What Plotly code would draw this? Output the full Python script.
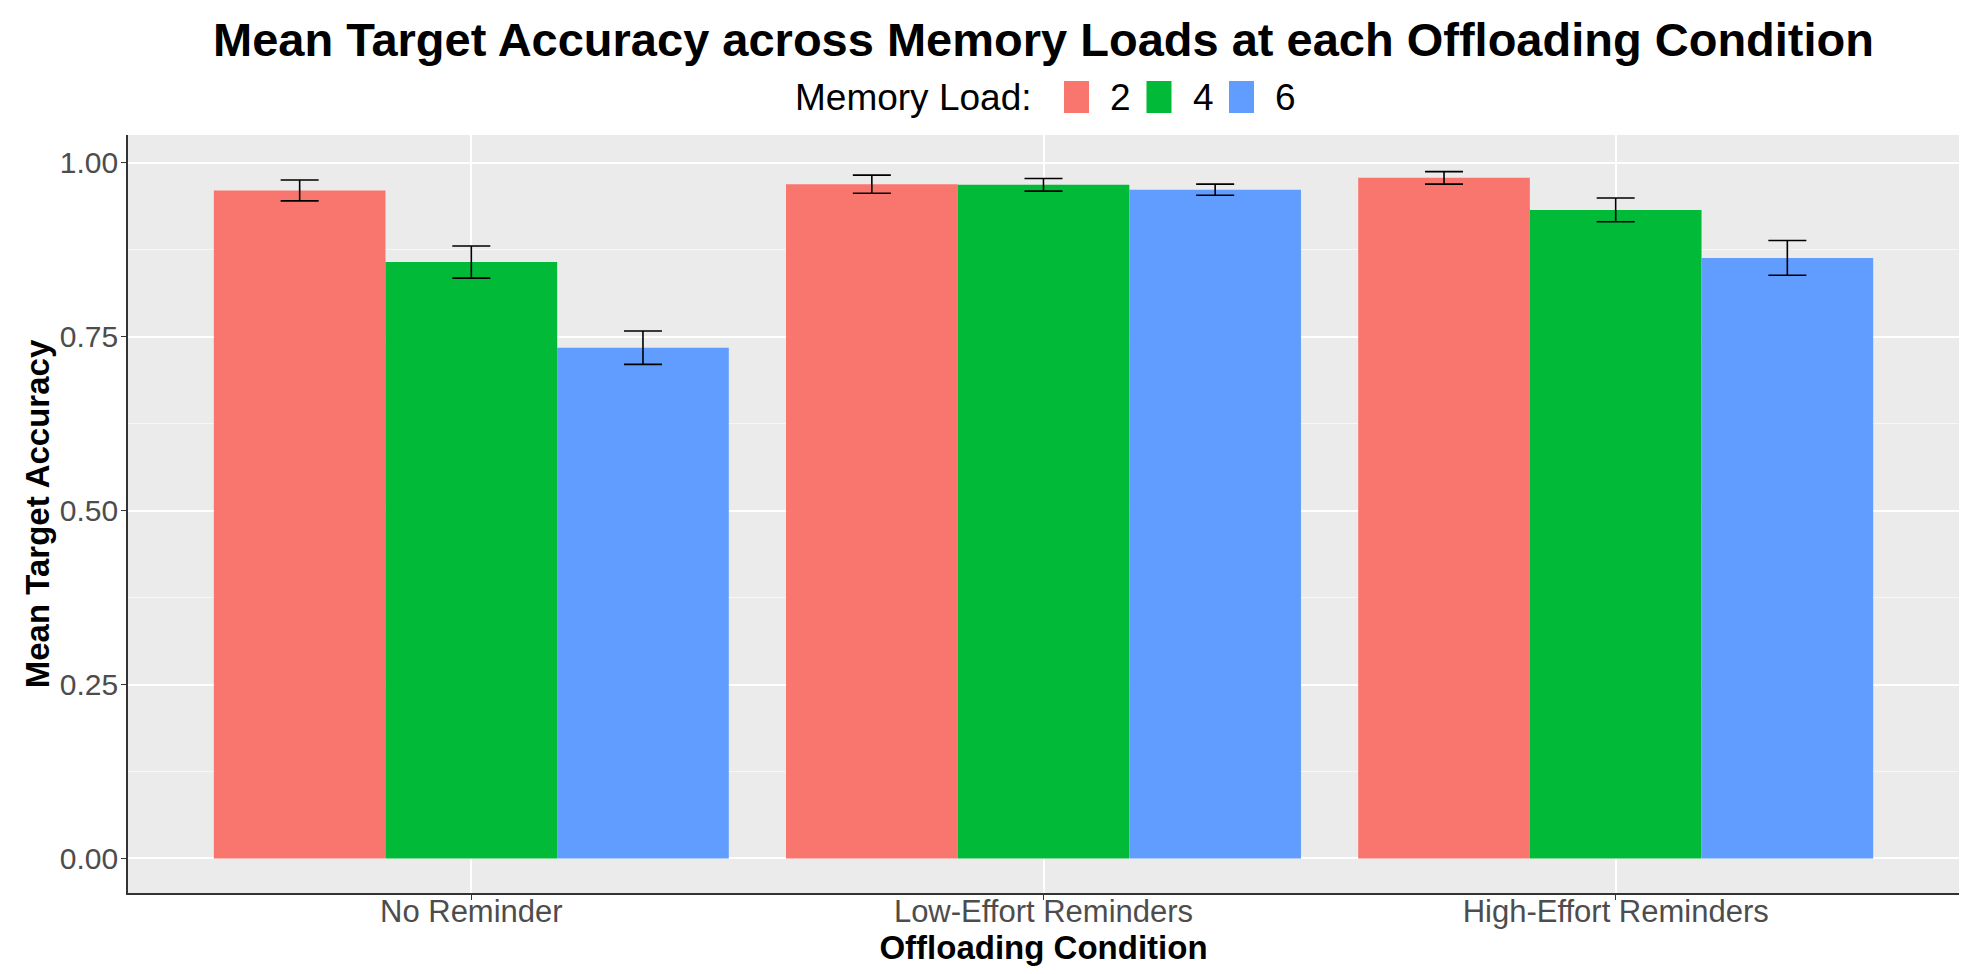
import plotly.graph_objects as go

conditions = ["No Reminder", "Low-Effort Reminders", "High-Effort Reminders"]
loads = ["2", "4", "6"]
colors = ["#F8766D", "#00BA38", "#619CFF"]
mean_load2 = [0.960, 0.969, 0.978]
mean_load4 = [0.857, 0.968, 0.932]
mean_load6 = [0.734, 0.961, 0.863]
se_load2 = [0.015, 0.013, 0.009]
se_load4 = [0.023, 0.009, 0.017]
se_load6 = [0.024, 0.008, 0.025]

means = [mean_load2, mean_load4, mean_load6]
ses = [se_load2, se_load4, se_load6]

W, H = 1967, 974
L, R, T, B = 120, 16, 127, 89
FONT = "Liberation Sans, Arial, Helvetica, sans-serif"


def px_x(px):
    return (px - L) / (W - L - R)


def px_y(py):
    return (H - B - py) / (H - T - B)


fig = go.Figure()
for name, col, m, s in zip(loads, colors, means, ses):
    fig.add_trace(go.Bar(
        x=conditions, y=m, name=name, showlegend=False,
        marker=dict(color=col, line=dict(width=0)),
        error_y=dict(type="data", array=s, visible=True, color="black",
                     thickness=1.6, width=19),
    ))

# Legend drawn manually (ggplot-style tall keys)
key_x0 = 1056
key_step = 82.5
key_w = 25
key_top, key_bot = 73, 105
text_mid = 89
shapes = []
annotations = [dict(text="Memory Load:", x=px_x(1026), y=px_y(text_mid), xref="paper", yref="paper",
                    xanchor="right", yanchor="middle", showarrow=False,
                    font=dict(size=37, color="black", family=FONT))]
for i, (name, col) in enumerate(zip(loads, colors)):
    x0 = key_x0 + i * key_step
    shapes.append(dict(type="rect", xref="paper", yref="paper",
                       x0=px_x(x0), x1=px_x(x0 + key_w), y0=px_y(key_bot), y1=px_y(key_top),
                       fillcolor=col, line=dict(width=0)))
    annotations.append(dict(text=name, x=px_x(key_x0 + 44 + i * key_step), y=px_y(text_mid),
                            xref="paper", yref="paper",
                            xanchor="left", yanchor="middle", showarrow=False,
                            font=dict(size=37, color="black", family=FONT)))

fig.update_layout(
    width=W, height=H,
    barmode="group", bargap=0.1, bargroupgap=0,
    paper_bgcolor="white", plot_bgcolor="#EBEBEB",
    margin=dict(l=L, r=R, t=T, b=B),
    font=dict(family=FONT, color="black"),
    title=dict(text="<b>Mean Target Accuracy across Memory Loads at each Offloading Condition</b>",
               x=0.5, xref="paper", xanchor="center", y=0.968, yanchor="middle", yref="container",
               font=dict(size=47, color="black")),
    shapes=shapes, annotations=annotations,
    showlegend=False,
)

fig.update_xaxes(
    range=[-0.6, 2.6], showgrid=True, gridcolor="white", gridwidth=1.8,
    showline=True, linecolor="#333333", linewidth=1.6,
    ticks="outside", ticklen=5, tickcolor="#333333", tickwidth=1.2,
    tickfont=dict(size=31, color="#4D4D4D"), ticklabelstandoff=-15,
    title=dict(text="<b>Offloading Condition</b>", font=dict(size=33, color="black"), standoff=6),
    zeroline=False,
)
fig.update_yaxes(
    range=[-0.0496, 1.0396], tickvals=[0, 0.25, 0.5, 0.75, 1.0],
    ticktext=["0.00", "0.25", "0.50", "0.75", "1.00"],
    showgrid=True, gridcolor="white", gridwidth=1.8,
    minor=dict(tickvals=[0.125, 0.375, 0.625, 0.875], showgrid=True, gridcolor="#F7F7F7", gridwidth=0.9),
    showline=True, linecolor="#333333", linewidth=1.6,
    ticks="outside", ticklen=5, tickcolor="#333333", tickwidth=1.2,
    tickfont=dict(size=30, color="#4D4D4D"), ticklabelstandoff=-3,
    title=dict(text="<b>Mean Target Accuracy</b>", font=dict(size=33, color="black"), standoff=0),
    zeroline=False,
)

fig.write_html("out.html")
